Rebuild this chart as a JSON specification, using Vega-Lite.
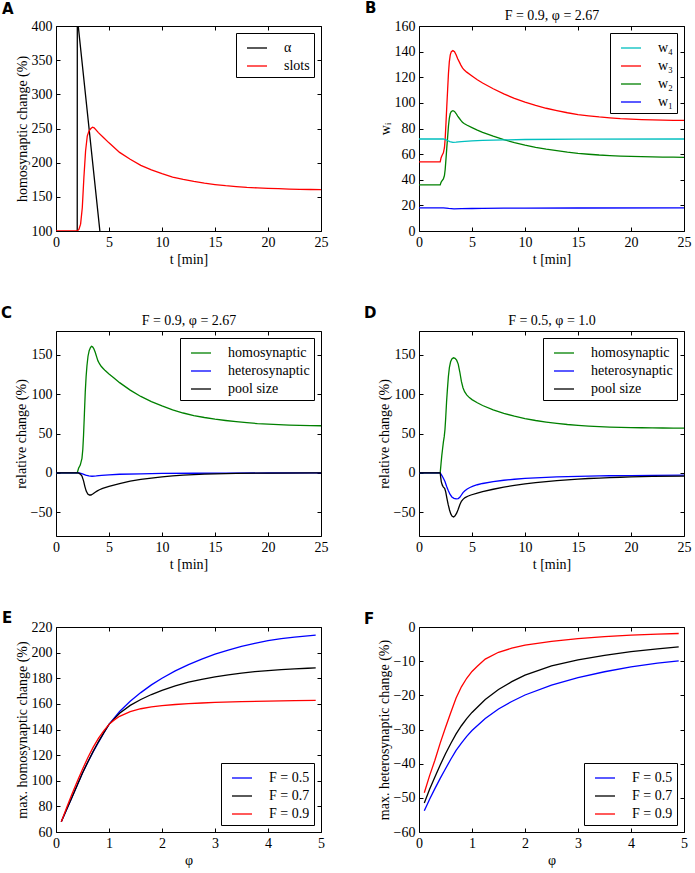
{
"$schema": "https://vega.github.io/schema/vega-lite/v6.json",
"background": "white",
"padding": {"left": 0, "top": 0, "right": 0, "bottom": 0},
"columns": 2,
"spacing": {"row": 38, "column": 34},
"resolve": {"scale": {"x": "independent", "y": "independent", "color": "independent"}, "legend": {"color": "independent"}},
"config": {
  "font": "Liberation Serif",
  "view": {"stroke": "black", "strokeWidth": 1},
  "axis": {"domain": false, "grid": false, "labelFont": "Liberation Serif", "labelFontSize": 14, "labelColor": "black", "titleFont": "Liberation Serif", "titleFontSize": 14, "titleFontWeight": "normal", "titleColor": "black", "tickColor": "black", "tickSize": -4, "tickWidth": 1, "labelPadding": 8, "labelFlush": false, "labelOverlap": false},
  "axisX": {"titlePadding": 3},
  "axisY": {"titlePadding": 2},
  "legend": {"title": null, "symbolType": "stroke", "symbolSize": 400, "symbolStrokeWidth": 1.3, "symbolOffset": 6, "labelFont": "Liberation Serif", "labelFontSize": 14, "labelColor": "black", "labelOffset": 16, "padding": 4, "rowPadding": 0, "strokeColor": "black", "strokeWidth": 1, "fillColor": "white", "offset": 7, "cornerRadius": 0, "labelLimit": 300},
  "title": {"font": "DejaVu Sans", "fontSize": 15, "fontWeight": "bold", "anchor": "start", "frame": "bounds", "dx": -13, "color": "black"},
  "line": {"strokeWidth": 1.3}
},
"concat": [
{
  "title": {"text": "A", "offset": 2},
  "width": 265, "height": 205,
  "layer": [
    {"data": {"values": [
      {"x": 0, "y": 0, "s": "α"}, {"x": 2.0, "y": 0, "s": "α"}, {"x": 2.01, "y": 413, "s": "α"}, {"x": 4.82, "y": 0, "s": "α"}, {"x": 25, "y": 0, "s": "α"},
      {"x": 0, "y": 100, "s": "slots"}, {"x": 2.0, "y": 100, "s": "slots"}, {"x": 2.16, "y": 102.4, "s": "slots"}, {"x": 2.32, "y": 110, "s": "slots"}, {"x": 2.48, "y": 134, "s": "slots"}, {"x": 2.63, "y": 178, "s": "slots"}, {"x": 2.79, "y": 217, "s": "slots"}, {"x": 2.95, "y": 239, "s": "slots"}, {"x": 3.1, "y": 246, "s": "slots"}, {"x": 3.29, "y": 250, "s": "slots"}, {"x": 3.45, "y": 252, "s": "slots"}, {"x": 3.6, "y": 251, "s": "slots"}, {"x": 4.0, "y": 244, "s": "slots"}, {"x": 4.5, "y": 236.5, "s": "slots"}, {"x": 5, "y": 229, "s": "slots"}, {"x": 6, "y": 215, "s": "slots"}, {"x": 7, "y": 205, "s": "slots"}, {"x": 8, "y": 196, "s": "slots"}, {"x": 9, "y": 189.5, "s": "slots"}, {"x": 10, "y": 184, "s": "slots"}, {"x": 11, "y": 179, "s": "slots"}, {"x": 12, "y": 175.5, "s": "slots"}, {"x": 13, "y": 172.5, "s": "slots"}, {"x": 14, "y": 170, "s": "slots"}, {"x": 15, "y": 168, "s": "slots"}, {"x": 16, "y": 166.3, "s": "slots"}, {"x": 17, "y": 165, "s": "slots"}, {"x": 18, "y": 163.8, "s": "slots"}, {"x": 19, "y": 163, "s": "slots"}, {"x": 20, "y": 162.4, "s": "slots"}, {"x": 21, "y": 161.9, "s": "slots"}, {"x": 22, "y": 161.4, "s": "slots"}, {"x": 23, "y": 161, "s": "slots"}, {"x": 24, "y": 160.7, "s": "slots"}, {"x": 25, "y": 160.5, "s": "slots"}
    ]},
    "mark": {"type": "line", "clip": true},
    "encoding": {
      "x": {"field": "x", "type": "quantitative", "scale": {"domain": [0, 25], "nice": false, "zero": false}, "axis": {"title": "t [min]", "values": [0, 5, 10, 15, 20, 25]}},
      "y": {"field": "y", "type": "quantitative", "scale": {"domain": [100, 400], "nice": false, "zero": false}, "axis": {"title": "homosynaptic change (%)", "values": [100, 150, 200, 250, 300, 350, 400]}},
      "color": {"field": "s", "type": "nominal", "scale": {"domain": ["α", "slots"], "range": ["#000000", "#ff0000"]}, "legend": {"orient": "top-right"}}
    }},
    {"data": {"values": [{}]}, "mark": {"type": "point", "opacity": 0},
     "encoding": {
       "x": {"datum": 0, "type": "quantitative", "axis": {"orient": "top", "labels": false, "title": null, "values": [0, 5, 10, 15, 20, 25]}},
       "y": {"datum": 100, "type": "quantitative", "axis": {"orient": "right", "labels": false, "title": null, "values": [100, 150, 200, 250, 300, 350, 400]}}
     }}
  ],
  "resolve": {"axis": {"x": "independent", "y": "independent"}}
},
{
  "title": {"text": "B", "offset": -7},
  "width": 265, "height": 205,
  "layer": [
    {"data": {"values": [
      {"x": 0, "y": 18, "s": "w₁"}, {"x": 2.3, "y": 18, "s": "w₁"}, {"x": 2.8, "y": 17.6, "s": "w₁"}, {"x": 3.3, "y": 17.3, "s": "w₁"}, {"x": 4, "y": 17.4, "s": "w₁"}, {"x": 5, "y": 17.55, "s": "w₁"}, {"x": 6, "y": 17.65, "s": "w₁"}, {"x": 8, "y": 17.8, "s": "w₁"}, {"x": 10, "y": 17.85, "s": "w₁"}, {"x": 15, "y": 17.95, "s": "w₁"}, {"x": 25, "y": 18, "s": "w₁"},
      {"x": 0, "y": 36, "s": "w₂"}, {"x": 2.0, "y": 36, "s": "w₂"}, {"x": 2.08, "y": 38, "s": "w₂"}, {"x": 2.15, "y": 39, "s": "w₂"}, {"x": 2.3, "y": 40.7, "s": "w₂"}, {"x": 2.4, "y": 43.3, "s": "w₂"}, {"x": 2.47, "y": 48, "s": "w₂"}, {"x": 2.55, "y": 56.7, "s": "w₂"}, {"x": 2.62, "y": 64.7, "s": "w₂"}, {"x": 2.7, "y": 73.3, "s": "w₂"}, {"x": 2.78, "y": 82, "s": "w₂"}, {"x": 2.86, "y": 88, "s": "w₂"}, {"x": 2.95, "y": 91.7, "s": "w₂"}, {"x": 3.05, "y": 93.3, "s": "w₂"}, {"x": 3.2, "y": 93.9, "s": "w₂"}, {"x": 3.35, "y": 93.3, "s": "w₂"}, {"x": 3.5, "y": 91.7, "s": "w₂"}, {"x": 3.65, "y": 89.7, "s": "w₂"}, {"x": 3.8, "y": 88, "s": "w₂"}, {"x": 3.95, "y": 86.3, "s": "w₂"}, {"x": 4.1, "y": 84.9, "s": "w₂"}, {"x": 4.25, "y": 83.9, "s": "w₂"}, {"x": 4.5, "y": 82.7, "s": "w₂"}, {"x": 5, "y": 80.7, "s": "w₂"}, {"x": 5.5, "y": 78.7, "s": "w₂"}, {"x": 6, "y": 77, "s": "w₂"}, {"x": 7, "y": 74, "s": "w₂"}, {"x": 8, "y": 71.3, "s": "w₂"}, {"x": 9, "y": 69, "s": "w₂"}, {"x": 10, "y": 67, "s": "w₂"}, {"x": 11, "y": 65.3, "s": "w₂"}, {"x": 12, "y": 63.9, "s": "w₂"}, {"x": 13, "y": 62.7, "s": "w₂"}, {"x": 14, "y": 61.5, "s": "w₂"}, {"x": 15, "y": 60.6, "s": "w₂"}, {"x": 16, "y": 59.9, "s": "w₂"}, {"x": 17, "y": 59.3, "s": "w₂"}, {"x": 18, "y": 58.9, "s": "w₂"}, {"x": 19, "y": 58.5, "s": "w₂"}, {"x": 20, "y": 58.2, "s": "w₂"}, {"x": 21, "y": 58, "s": "w₂"}, {"x": 22, "y": 57.9, "s": "w₂"}, {"x": 23, "y": 57.7, "s": "w₂"}, {"x": 24, "y": 57.6, "s": "w₂"}, {"x": 25, "y": 57.5, "s": "w₂"},
      {"x": 0, "y": 54, "s": "w₃"}, {"x": 2.0, "y": 54, "s": "w₃"}, {"x": 2.08, "y": 57, "s": "w₃"}, {"x": 2.15, "y": 58.5, "s": "w₃"}, {"x": 2.3, "y": 61, "s": "w₃"}, {"x": 2.4, "y": 65, "s": "w₃"}, {"x": 2.47, "y": 72, "s": "w₃"}, {"x": 2.55, "y": 85, "s": "w₃"}, {"x": 2.62, "y": 97, "s": "w₃"}, {"x": 2.7, "y": 110, "s": "w₃"}, {"x": 2.78, "y": 123, "s": "w₃"}, {"x": 2.86, "y": 132, "s": "w₃"}, {"x": 2.95, "y": 137.5, "s": "w₃"}, {"x": 3.05, "y": 140, "s": "w₃"}, {"x": 3.2, "y": 140.8, "s": "w₃"}, {"x": 3.35, "y": 140, "s": "w₃"}, {"x": 3.5, "y": 137.5, "s": "w₃"}, {"x": 3.65, "y": 134.5, "s": "w₃"}, {"x": 3.8, "y": 132, "s": "w₃"}, {"x": 3.95, "y": 129.5, "s": "w₃"}, {"x": 4.1, "y": 127.3, "s": "w₃"}, {"x": 4.25, "y": 125.8, "s": "w₃"}, {"x": 4.5, "y": 124, "s": "w₃"}, {"x": 5, "y": 121, "s": "w₃"}, {"x": 5.5, "y": 118, "s": "w₃"}, {"x": 6, "y": 115.5, "s": "w₃"}, {"x": 7, "y": 111, "s": "w₃"}, {"x": 8, "y": 107, "s": "w₃"}, {"x": 9, "y": 103.5, "s": "w₃"}, {"x": 10, "y": 100.5, "s": "w₃"}, {"x": 11, "y": 98, "s": "w₃"}, {"x": 12, "y": 95.8, "s": "w₃"}, {"x": 13, "y": 94, "s": "w₃"}, {"x": 14, "y": 92.3, "s": "w₃"}, {"x": 15, "y": 90.9, "s": "w₃"}, {"x": 16, "y": 89.9, "s": "w₃"}, {"x": 17, "y": 89, "s": "w₃"}, {"x": 18, "y": 88.3, "s": "w₃"}, {"x": 19, "y": 87.7, "s": "w₃"}, {"x": 20, "y": 87.3, "s": "w₃"}, {"x": 21, "y": 87, "s": "w₃"}, {"x": 22, "y": 86.8, "s": "w₃"}, {"x": 23, "y": 86.6, "s": "w₃"}, {"x": 24, "y": 86.4, "s": "w₃"}, {"x": 25, "y": 86.3, "s": "w₃"},
      {"x": 0, "y": 71.8, "s": "w₄"}, {"x": 2.3, "y": 71.8, "s": "w₄"}, {"x": 2.6, "y": 71, "s": "w₄"}, {"x": 2.9, "y": 69.8, "s": "w₄"}, {"x": 3.2, "y": 69.2, "s": "w₄"}, {"x": 3.5, "y": 69.3, "s": "w₄"}, {"x": 4, "y": 69.8, "s": "w₄"}, {"x": 5, "y": 70.3, "s": "w₄"}, {"x": 6, "y": 70.7, "s": "w₄"}, {"x": 8, "y": 71.1, "s": "w₄"}, {"x": 10, "y": 71.4, "s": "w₄"}, {"x": 15, "y": 71.7, "s": "w₄"}, {"x": 25, "y": 71.8, "s": "w₄"}
    ]},
    "mark": {"type": "line", "clip": true},
    "encoding": {
      "x": {"field": "x", "type": "quantitative", "scale": {"domain": [0, 25], "nice": false, "zero": false}, "axis": {"title": "t [min]", "values": [0, 5, 10, 15, 20, 25]}},
      "y": {"field": "y", "type": "quantitative", "scale": {"domain": [0, 160], "nice": false}, "axis": {"title": "wᵢ", "values": [0, 20, 40, 60, 80, 100, 120, 140, 160]}},
      "color": {"field": "s", "type": "nominal", "scale": {"domain": ["w₄", "w₃", "w₂", "w₁"], "range": ["#00bfbf", "#ff0000", "#008000", "#0000ff"]}, "legend": {"orient": "top-right"}}
    }},
    {"data": {"values": [{}]}, "mark": {"type": "point", "opacity": 0},
     "encoding": {
       "x": {"datum": 0, "type": "quantitative", "axis": {"orient": "top", "labels": false, "title": "F = 0.9,  φ = 2.67", "titlePadding": 3, "values": [0, 5, 10, 15, 20, 25]}},
       "y": {"datum": 0, "type": "quantitative", "axis": {"orient": "right", "labels": false, "title": null, "values": [0, 20, 40, 60, 80, 100, 120, 140, 160]}}
     }}
  ],
  "resolve": {"axis": {"x": "independent", "y": "independent"}}
},
{
  "title": {"text": "C", "offset": -7},
  "width": 265, "height": 205,
  "layer": [
    {"data": {"values": [
      {"x": 0, "y": 0, "s": "homosynaptic"}, {"x": 2.0, "y": 0, "s": "homosynaptic"}, {"x": 2.13, "y": 5.9, "s": "homosynaptic"}, {"x": 2.29, "y": 10, "s": "homosynaptic"}, {"x": 2.45, "y": 18.5, "s": "homosynaptic"}, {"x": 2.53, "y": 30, "s": "homosynaptic"}, {"x": 2.6, "y": 48, "s": "homosynaptic"}, {"x": 2.68, "y": 75, "s": "homosynaptic"}, {"x": 2.76, "y": 102.5, "s": "homosynaptic"}, {"x": 2.84, "y": 122, "s": "homosynaptic"}, {"x": 2.92, "y": 136, "s": "homosynaptic"}, {"x": 3.02, "y": 148, "s": "homosynaptic"}, {"x": 3.13, "y": 155, "s": "homosynaptic"}, {"x": 3.25, "y": 159, "s": "homosynaptic"}, {"x": 3.35, "y": 160.5, "s": "homosynaptic"}, {"x": 3.45, "y": 160, "s": "homosynaptic"}, {"x": 3.55, "y": 158, "s": "homosynaptic"}, {"x": 3.7, "y": 153, "s": "homosynaptic"}, {"x": 3.85, "y": 146.5, "s": "homosynaptic"}, {"x": 3.95, "y": 142.4, "s": "homosynaptic"}, {"x": 4.1, "y": 138.5, "s": "homosynaptic"}, {"x": 4.26, "y": 135.3, "s": "homosynaptic"}, {"x": 4.45, "y": 132.5, "s": "homosynaptic"}, {"x": 4.64, "y": 129.8, "s": "homosynaptic"}, {"x": 5, "y": 125.5, "s": "homosynaptic"}, {"x": 5.5, "y": 120, "s": "homosynaptic"}, {"x": 6, "y": 114.5, "s": "homosynaptic"}, {"x": 7, "y": 105, "s": "homosynaptic"}, {"x": 8, "y": 97, "s": "homosynaptic"}, {"x": 9, "y": 90.5, "s": "homosynaptic"}, {"x": 10, "y": 85, "s": "homosynaptic"}, {"x": 11, "y": 80, "s": "homosynaptic"}, {"x": 12, "y": 76, "s": "homosynaptic"}, {"x": 13, "y": 72.8, "s": "homosynaptic"}, {"x": 14, "y": 70.3, "s": "homosynaptic"}, {"x": 15, "y": 68.2, "s": "homosynaptic"}, {"x": 16, "y": 66.5, "s": "homosynaptic"}, {"x": 17, "y": 65, "s": "homosynaptic"}, {"x": 18, "y": 63.7, "s": "homosynaptic"}, {"x": 19, "y": 62.6, "s": "homosynaptic"}, {"x": 20, "y": 61.8, "s": "homosynaptic"}, {"x": 21, "y": 61.2, "s": "homosynaptic"}, {"x": 22, "y": 60.7, "s": "homosynaptic"}, {"x": 23, "y": 60.3, "s": "homosynaptic"}, {"x": 24, "y": 60, "s": "homosynaptic"}, {"x": 25, "y": 59.8, "s": "homosynaptic"},
      {"x": 0, "y": 0, "s": "heterosynaptic"}, {"x": 2.2, "y": 0, "s": "heterosynaptic"}, {"x": 2.5, "y": -1.2, "s": "heterosynaptic"}, {"x": 2.8, "y": -2.8, "s": "heterosynaptic"}, {"x": 3.1, "y": -3.8, "s": "heterosynaptic"}, {"x": 3.4, "y": -4.2, "s": "heterosynaptic"}, {"x": 3.8, "y": -3.8, "s": "heterosynaptic"}, {"x": 4.3, "y": -3.1, "s": "heterosynaptic"}, {"x": 5, "y": -2.4, "s": "heterosynaptic"}, {"x": 6, "y": -1.7, "s": "heterosynaptic"}, {"x": 8, "y": -1.1, "s": "heterosynaptic"}, {"x": 10, "y": -0.7, "s": "heterosynaptic"}, {"x": 13, "y": -0.4, "s": "heterosynaptic"}, {"x": 16, "y": -0.2, "s": "heterosynaptic"}, {"x": 20, "y": -0.1, "s": "heterosynaptic"}, {"x": 25, "y": 0, "s": "heterosynaptic"},
      {"x": 0, "y": 0, "s": "pool size"}, {"x": 2.1, "y": 0, "s": "pool size"}, {"x": 2.3, "y": -1.5, "s": "pool size"}, {"x": 2.45, "y": -4, "s": "pool size"}, {"x": 2.6, "y": -10, "s": "pool size"}, {"x": 2.72, "y": -17, "s": "pool size"}, {"x": 2.85, "y": -23, "s": "pool size"}, {"x": 3.0, "y": -26.8, "s": "pool size"}, {"x": 3.15, "y": -28, "s": "pool size"}, {"x": 3.3, "y": -28, "s": "pool size"}, {"x": 3.5, "y": -26.5, "s": "pool size"}, {"x": 3.7, "y": -24.5, "s": "pool size"}, {"x": 3.9, "y": -22.8, "s": "pool size"}, {"x": 4.1, "y": -21.3, "s": "pool size"}, {"x": 4.4, "y": -19.6, "s": "pool size"}, {"x": 5, "y": -17, "s": "pool size"}, {"x": 6, "y": -13.5, "s": "pool size"}, {"x": 7, "y": -10.5, "s": "pool size"}, {"x": 8, "y": -8.3, "s": "pool size"}, {"x": 9, "y": -6.5, "s": "pool size"}, {"x": 10, "y": -5, "s": "pool size"}, {"x": 11, "y": -3.8, "s": "pool size"}, {"x": 12, "y": -2.8, "s": "pool size"}, {"x": 13, "y": -2.1, "s": "pool size"}, {"x": 14, "y": -1.5, "s": "pool size"}, {"x": 15, "y": -1.1, "s": "pool size"}, {"x": 17, "y": -0.6, "s": "pool size"}, {"x": 20, "y": -0.2, "s": "pool size"}, {"x": 25, "y": 0, "s": "pool size"}
    ]},
    "mark": {"type": "line", "clip": true},
    "encoding": {
      "x": {"field": "x", "type": "quantitative", "scale": {"domain": [0, 25], "nice": false, "zero": false}, "axis": {"title": "t [min]", "values": [0, 5, 10, 15, 20, 25]}},
      "y": {"field": "y", "type": "quantitative", "scale": {"domain": [-80, 180], "nice": false, "zero": false}, "axis": {"title": "relative change (%)", "values": [-50, 0, 50, 100, 150]}},
      "color": {"field": "s", "type": "nominal", "scale": {"domain": ["homosynaptic", "heterosynaptic", "pool size"], "range": ["#008000", "#0000ff", "#000000"]}, "legend": {"orient": "top-right"}}
    }},
    {"data": {"values": [{}]}, "mark": {"type": "point", "opacity": 0},
     "encoding": {
       "x": {"datum": 0, "type": "quantitative", "axis": {"orient": "top", "labels": false, "title": "F = 0.9,  φ = 2.67", "titlePadding": 3, "values": [0, 5, 10, 15, 20, 25]}},
       "y": {"datum": 0, "type": "quantitative", "axis": {"orient": "right", "labels": false, "title": null, "values": [-50, 0, 50, 100, 150]}}
     }}
  ],
  "resolve": {"axis": {"x": "independent", "y": "independent"}}
},
{
  "title": {"text": "D", "offset": -7},
  "width": 265, "height": 205,
  "layer": [
    {"data": {"values": [
      {"x": 0, "y": 0, "s": "homosynaptic"}, {"x": 2.0, "y": 0, "s": "homosynaptic"}, {"x": 2.08, "y": 12, "s": "homosynaptic"}, {"x": 2.15, "y": 22, "s": "homosynaptic"}, {"x": 2.22, "y": 30, "s": "homosynaptic"}, {"x": 2.3, "y": 39, "s": "homosynaptic"}, {"x": 2.38, "y": 46, "s": "homosynaptic"}, {"x": 2.45, "y": 55, "s": "homosynaptic"}, {"x": 2.52, "y": 70, "s": "homosynaptic"}, {"x": 2.6, "y": 90, "s": "homosynaptic"}, {"x": 2.68, "y": 106, "s": "homosynaptic"}, {"x": 2.77, "y": 122, "s": "homosynaptic"}, {"x": 2.87, "y": 134, "s": "homosynaptic"}, {"x": 2.98, "y": 141, "s": "homosynaptic"}, {"x": 3.1, "y": 144.5, "s": "homosynaptic"}, {"x": 3.25, "y": 146, "s": "homosynaptic"}, {"x": 3.4, "y": 145.4, "s": "homosynaptic"}, {"x": 3.55, "y": 143, "s": "homosynaptic"}, {"x": 3.7, "y": 138, "s": "homosynaptic"}, {"x": 3.85, "y": 128, "s": "homosynaptic"}, {"x": 4.0, "y": 116, "s": "homosynaptic"}, {"x": 4.15, "y": 108, "s": "homosynaptic"}, {"x": 4.3, "y": 103, "s": "homosynaptic"}, {"x": 4.5, "y": 99, "s": "homosynaptic"}, {"x": 4.75, "y": 95.5, "s": "homosynaptic"}, {"x": 5, "y": 93, "s": "homosynaptic"}, {"x": 5.5, "y": 89, "s": "homosynaptic"}, {"x": 6, "y": 85.5, "s": "homosynaptic"}, {"x": 7, "y": 80, "s": "homosynaptic"}, {"x": 8, "y": 75.5, "s": "homosynaptic"}, {"x": 9, "y": 72, "s": "homosynaptic"}, {"x": 10, "y": 69, "s": "homosynaptic"}, {"x": 11, "y": 66.5, "s": "homosynaptic"}, {"x": 12, "y": 64.5, "s": "homosynaptic"}, {"x": 13, "y": 62.8, "s": "homosynaptic"}, {"x": 14, "y": 61.4, "s": "homosynaptic"}, {"x": 15, "y": 60.3, "s": "homosynaptic"}, {"x": 16, "y": 59.4, "s": "homosynaptic"}, {"x": 17, "y": 58.7, "s": "homosynaptic"}, {"x": 18, "y": 58.2, "s": "homosynaptic"}, {"x": 19, "y": 57.8, "s": "homosynaptic"}, {"x": 20, "y": 57.5, "s": "homosynaptic"}, {"x": 21, "y": 57.3, "s": "homosynaptic"}, {"x": 22, "y": 57.1, "s": "homosynaptic"}, {"x": 23, "y": 57, "s": "homosynaptic"}, {"x": 24, "y": 56.9, "s": "homosynaptic"}, {"x": 25, "y": 56.8, "s": "homosynaptic"},
      {"x": 0, "y": 0, "s": "heterosynaptic"}, {"x": 2.0, "y": 0, "s": "heterosynaptic"}, {"x": 2.15, "y": -3, "s": "heterosynaptic"}, {"x": 2.3, "y": -6.7, "s": "heterosynaptic"}, {"x": 2.45, "y": -11, "s": "heterosynaptic"}, {"x": 2.6, "y": -17, "s": "heterosynaptic"}, {"x": 2.75, "y": -22, "s": "heterosynaptic"}, {"x": 2.92, "y": -27, "s": "heterosynaptic"}, {"x": 3.1, "y": -30.5, "s": "heterosynaptic"}, {"x": 3.3, "y": -32.3, "s": "heterosynaptic"}, {"x": 3.5, "y": -33, "s": "heterosynaptic"}, {"x": 3.7, "y": -32.6, "s": "heterosynaptic"}, {"x": 3.85, "y": -31, "s": "heterosynaptic"}, {"x": 4.0, "y": -28, "s": "heterosynaptic"}, {"x": 4.15, "y": -25, "s": "heterosynaptic"}, {"x": 4.33, "y": -22.7, "s": "heterosynaptic"}, {"x": 4.55, "y": -20.3, "s": "heterosynaptic"}, {"x": 4.8, "y": -18.5, "s": "heterosynaptic"}, {"x": 5.1, "y": -16.8, "s": "heterosynaptic"}, {"x": 5.5, "y": -15, "s": "heterosynaptic"}, {"x": 6, "y": -13.4, "s": "heterosynaptic"}, {"x": 7, "y": -11, "s": "heterosynaptic"}, {"x": 8, "y": -9.3, "s": "heterosynaptic"}, {"x": 9, "y": -8, "s": "heterosynaptic"}, {"x": 10, "y": -7, "s": "heterosynaptic"}, {"x": 11, "y": -6.2, "s": "heterosynaptic"}, {"x": 12, "y": -5.6, "s": "heterosynaptic"}, {"x": 13, "y": -5.1, "s": "heterosynaptic"}, {"x": 14, "y": -4.7, "s": "heterosynaptic"}, {"x": 15, "y": -4.3, "s": "heterosynaptic"}, {"x": 16, "y": -4, "s": "heterosynaptic"}, {"x": 17, "y": -3.8, "s": "heterosynaptic"}, {"x": 18, "y": -3.6, "s": "heterosynaptic"}, {"x": 19, "y": -3.4, "s": "heterosynaptic"}, {"x": 20, "y": -3.3, "s": "heterosynaptic"}, {"x": 22, "y": -3.1, "s": "heterosynaptic"}, {"x": 25, "y": -2.9, "s": "heterosynaptic"},
      {"x": 0, "y": 0, "s": "pool size"}, {"x": 2.0, "y": 0, "s": "pool size"}, {"x": 2.05, "y": -6, "s": "pool size"}, {"x": 2.1, "y": -11, "s": "pool size"}, {"x": 2.2, "y": -15.5, "s": "pool size"}, {"x": 2.3, "y": -18, "s": "pool size"}, {"x": 2.42, "y": -19.5, "s": "pool size"}, {"x": 2.52, "y": -24, "s": "pool size"}, {"x": 2.63, "y": -32, "s": "pool size"}, {"x": 2.75, "y": -40, "s": "pool size"}, {"x": 2.88, "y": -47, "s": "pool size"}, {"x": 3.0, "y": -52, "s": "pool size"}, {"x": 3.13, "y": -55, "s": "pool size"}, {"x": 3.27, "y": -55.8, "s": "pool size"}, {"x": 3.4, "y": -54.5, "s": "pool size"}, {"x": 3.55, "y": -51, "s": "pool size"}, {"x": 3.7, "y": -46, "s": "pool size"}, {"x": 3.85, "y": -40.5, "s": "pool size"}, {"x": 4.0, "y": -36, "s": "pool size"}, {"x": 4.15, "y": -33.5, "s": "pool size"}, {"x": 4.35, "y": -31.3, "s": "pool size"}, {"x": 4.6, "y": -29.6, "s": "pool size"}, {"x": 4.9, "y": -28, "s": "pool size"}, {"x": 5.5, "y": -25.5, "s": "pool size"}, {"x": 6, "y": -23.7, "s": "pool size"}, {"x": 7, "y": -20.7, "s": "pool size"}, {"x": 8, "y": -18, "s": "pool size"}, {"x": 9, "y": -15.8, "s": "pool size"}, {"x": 10, "y": -14, "s": "pool size"}, {"x": 11, "y": -12.4, "s": "pool size"}, {"x": 12, "y": -11, "s": "pool size"}, {"x": 13, "y": -9.8, "s": "pool size"}, {"x": 14, "y": -8.8, "s": "pool size"}, {"x": 15, "y": -7.9, "s": "pool size"}, {"x": 16, "y": -7.1, "s": "pool size"}, {"x": 17, "y": -6.5, "s": "pool size"}, {"x": 18, "y": -5.9, "s": "pool size"}, {"x": 19, "y": -5.5, "s": "pool size"}, {"x": 20, "y": -5.1, "s": "pool size"}, {"x": 22, "y": -4.5, "s": "pool size"}, {"x": 25, "y": -4, "s": "pool size"}
    ]},
    "mark": {"type": "line", "clip": true},
    "encoding": {
      "x": {"field": "x", "type": "quantitative", "scale": {"domain": [0, 25], "nice": false, "zero": false}, "axis": {"title": "t [min]", "values": [0, 5, 10, 15, 20, 25]}},
      "y": {"field": "y", "type": "quantitative", "scale": {"domain": [-80, 180], "nice": false, "zero": false}, "axis": {"title": "relative change (%)", "values": [-50, 0, 50, 100, 150]}},
      "color": {"field": "s", "type": "nominal", "scale": {"domain": ["homosynaptic", "heterosynaptic", "pool size"], "range": ["#008000", "#0000ff", "#000000"]}, "legend": {"orient": "top-right"}}
    }},
    {"data": {"values": [{}]}, "mark": {"type": "point", "opacity": 0},
     "encoding": {
       "x": {"datum": 0, "type": "quantitative", "axis": {"orient": "top", "labels": false, "title": "F = 0.5,  φ = 1.0", "titlePadding": 3, "values": [0, 5, 10, 15, 20, 25]}},
       "y": {"datum": 0, "type": "quantitative", "axis": {"orient": "right", "labels": false, "title": null, "values": [-50, 0, 50, 100, 150]}}
     }}
  ],
  "resolve": {"axis": {"x": "independent", "y": "independent"}}
},
{
  "title": {"text": "E", "offset": -6},
  "width": 265, "height": 205,
  "layer": [
    {"data": {"values": [
      {"x": 0.1, "y": 68, "s": "F = 0.5"}, {"x": 0.2, "y": 77.5, "s": "F = 0.5"}, {"x": 0.3, "y": 87, "s": "F = 0.5"}, {"x": 0.4, "y": 96.5, "s": "F = 0.5"}, {"x": 0.5, "y": 106, "s": "F = 0.5"}, {"x": 0.6, "y": 114.5, "s": "F = 0.5"}, {"x": 0.7, "y": 122.5, "s": "F = 0.5"}, {"x": 0.8, "y": 130, "s": "F = 0.5"}, {"x": 0.9, "y": 137.2, "s": "F = 0.5"}, {"x": 1.0, "y": 144, "s": "F = 0.5"}, {"x": 1.2, "y": 154, "s": "F = 0.5"}, {"x": 1.4, "y": 162, "s": "F = 0.5"}, {"x": 1.6, "y": 168.8, "s": "F = 0.5"}, {"x": 1.8, "y": 174.8, "s": "F = 0.5"}, {"x": 2.0, "y": 180, "s": "F = 0.5"}, {"x": 2.25, "y": 185.7, "s": "F = 0.5"}, {"x": 2.5, "y": 190.7, "s": "F = 0.5"}, {"x": 2.75, "y": 195, "s": "F = 0.5"}, {"x": 3.0, "y": 198.8, "s": "F = 0.5"}, {"x": 3.25, "y": 202, "s": "F = 0.5"}, {"x": 3.5, "y": 204.9, "s": "F = 0.5"}, {"x": 3.75, "y": 207.3, "s": "F = 0.5"}, {"x": 4.0, "y": 209.3, "s": "F = 0.5"}, {"x": 4.25, "y": 210.9, "s": "F = 0.5"}, {"x": 4.5, "y": 212.1, "s": "F = 0.5"}, {"x": 4.75, "y": 213.1, "s": "F = 0.5"}, {"x": 4.9, "y": 213.6, "s": "F = 0.5"},
      {"x": 0.1, "y": 68, "s": "F = 0.7"}, {"x": 0.2, "y": 77.5, "s": "F = 0.7"}, {"x": 0.3, "y": 87, "s": "F = 0.7"}, {"x": 0.4, "y": 96.5, "s": "F = 0.7"}, {"x": 0.5, "y": 106, "s": "F = 0.7"}, {"x": 0.6, "y": 114.7, "s": "F = 0.7"}, {"x": 0.7, "y": 122.8, "s": "F = 0.7"}, {"x": 0.8, "y": 130.4, "s": "F = 0.7"}, {"x": 0.9, "y": 137.4, "s": "F = 0.7"}, {"x": 1.0, "y": 144, "s": "F = 0.7"}, {"x": 1.2, "y": 152.7, "s": "F = 0.7"}, {"x": 1.4, "y": 158.8, "s": "F = 0.7"}, {"x": 1.6, "y": 163.4, "s": "F = 0.7"}, {"x": 1.8, "y": 167.3, "s": "F = 0.7"}, {"x": 2.0, "y": 170.6, "s": "F = 0.7"}, {"x": 2.25, "y": 174, "s": "F = 0.7"}, {"x": 2.5, "y": 176.9, "s": "F = 0.7"}, {"x": 2.75, "y": 179.2, "s": "F = 0.7"}, {"x": 3.0, "y": 181.1, "s": "F = 0.7"}, {"x": 3.25, "y": 182.7, "s": "F = 0.7"}, {"x": 3.5, "y": 184, "s": "F = 0.7"}, {"x": 3.75, "y": 185.1, "s": "F = 0.7"}, {"x": 4.0, "y": 186, "s": "F = 0.7"}, {"x": 4.25, "y": 186.7, "s": "F = 0.7"}, {"x": 4.5, "y": 187.3, "s": "F = 0.7"}, {"x": 4.75, "y": 187.8, "s": "F = 0.7"}, {"x": 4.9, "y": 188.1, "s": "F = 0.7"},
      {"x": 0.1, "y": 68, "s": "F = 0.9"}, {"x": 0.2, "y": 79, "s": "F = 0.9"}, {"x": 0.3, "y": 89.5, "s": "F = 0.9"}, {"x": 0.4, "y": 99.5, "s": "F = 0.9"}, {"x": 0.5, "y": 109, "s": "F = 0.9"}, {"x": 0.6, "y": 118, "s": "F = 0.9"}, {"x": 0.7, "y": 126, "s": "F = 0.9"}, {"x": 0.8, "y": 133, "s": "F = 0.9"}, {"x": 0.9, "y": 139, "s": "F = 0.9"}, {"x": 1.0, "y": 144, "s": "F = 0.9"}, {"x": 1.1, "y": 147.5, "s": "F = 0.9"}, {"x": 1.2, "y": 150.3, "s": "F = 0.9"}, {"x": 1.4, "y": 154, "s": "F = 0.9"}, {"x": 1.6, "y": 156.2, "s": "F = 0.9"}, {"x": 1.8, "y": 157.6, "s": "F = 0.9"}, {"x": 2.0, "y": 158.6, "s": "F = 0.9"}, {"x": 2.25, "y": 159.5, "s": "F = 0.9"}, {"x": 2.5, "y": 160.2, "s": "F = 0.9"}, {"x": 2.75, "y": 160.7, "s": "F = 0.9"}, {"x": 3.0, "y": 161.1, "s": "F = 0.9"}, {"x": 3.5, "y": 161.7, "s": "F = 0.9"}, {"x": 4.0, "y": 162.2, "s": "F = 0.9"}, {"x": 4.5, "y": 162.5, "s": "F = 0.9"}, {"x": 4.9, "y": 162.7, "s": "F = 0.9"}
    ]},
    "mark": {"type": "line", "clip": true},
    "encoding": {
      "x": {"field": "x", "type": "quantitative", "scale": {"domain": [0, 5], "nice": false, "zero": false}, "axis": {"title": "φ", "values": [0, 1, 2, 3, 4, 5]}},
      "y": {"field": "y", "type": "quantitative", "scale": {"domain": [60, 220], "nice": false, "zero": false}, "axis": {"title": "max. homosynaptic change (%)", "values": [60, 80, 100, 120, 140, 160, 180, 200, 220]}},
      "color": {"field": "s", "type": "nominal", "scale": {"domain": ["F = 0.5", "F = 0.7", "F = 0.9"], "range": ["#0000ff", "#000000", "#ff0000"]}, "legend": {"orient": "bottom-right"}}
    }},
    {"data": {"values": [{}]}, "mark": {"type": "point", "opacity": 0},
     "encoding": {
       "x": {"datum": 0, "type": "quantitative", "axis": {"orient": "top", "labels": false, "title": null, "values": [0, 1, 2, 3, 4, 5]}},
       "y": {"datum": 60, "type": "quantitative", "axis": {"orient": "right", "labels": false, "title": null, "values": [60, 80, 100, 120, 140, 160, 180, 200, 220]}}
     }}
  ],
  "resolve": {"axis": {"x": "independent", "y": "independent"}}
},
{
  "title": {"text": "F", "offset": -7},
  "width": 265, "height": 205,
  "layer": [
    {"data": {"values": [
      {"x": 0.1, "y": -53.8, "s": "F = 0.5"}, {"x": 0.2, "y": -50.4, "s": "F = 0.5"}, {"x": 0.3, "y": -47.3, "s": "F = 0.5"}, {"x": 0.4, "y": -44.3, "s": "F = 0.5"}, {"x": 0.5, "y": -41.5, "s": "F = 0.5"}, {"x": 0.6, "y": -38.7, "s": "F = 0.5"}, {"x": 0.7, "y": -36.1, "s": "F = 0.5"}, {"x": 0.8, "y": -34, "s": "F = 0.5"}, {"x": 0.9, "y": -32, "s": "F = 0.5"}, {"x": 1.0, "y": -30.3, "s": "F = 0.5"}, {"x": 1.25, "y": -26.8, "s": "F = 0.5"}, {"x": 1.5, "y": -24, "s": "F = 0.5"}, {"x": 1.75, "y": -21.8, "s": "F = 0.5"}, {"x": 2.0, "y": -19.9, "s": "F = 0.5"}, {"x": 2.5, "y": -17, "s": "F = 0.5"}, {"x": 3.0, "y": -14.8, "s": "F = 0.5"}, {"x": 3.5, "y": -13.1, "s": "F = 0.5"}, {"x": 4.0, "y": -11.7, "s": "F = 0.5"}, {"x": 4.5, "y": -10.6, "s": "F = 0.5"}, {"x": 4.9, "y": -9.9, "s": "F = 0.5"},
      {"x": 0.1, "y": -51.5, "s": "F = 0.7"}, {"x": 0.2, "y": -47.5, "s": "F = 0.7"}, {"x": 0.3, "y": -43.9, "s": "F = 0.7"}, {"x": 0.4, "y": -40.4, "s": "F = 0.7"}, {"x": 0.5, "y": -37.1, "s": "F = 0.7"}, {"x": 0.6, "y": -34.1, "s": "F = 0.7"}, {"x": 0.7, "y": -31.3, "s": "F = 0.7"}, {"x": 0.8, "y": -28.9, "s": "F = 0.7"}, {"x": 0.9, "y": -26.8, "s": "F = 0.7"}, {"x": 1.0, "y": -25, "s": "F = 0.7"}, {"x": 1.25, "y": -21.2, "s": "F = 0.7"}, {"x": 1.5, "y": -18.3, "s": "F = 0.7"}, {"x": 1.75, "y": -16, "s": "F = 0.7"}, {"x": 2.0, "y": -14.1, "s": "F = 0.7"}, {"x": 2.5, "y": -11.4, "s": "F = 0.7"}, {"x": 3.0, "y": -9.6, "s": "F = 0.7"}, {"x": 3.5, "y": -8.3, "s": "F = 0.7"}, {"x": 4.0, "y": -7.2, "s": "F = 0.7"}, {"x": 4.5, "y": -6.4, "s": "F = 0.7"}, {"x": 4.9, "y": -5.8, "s": "F = 0.7"},
      {"x": 0.1, "y": -48.5, "s": "F = 0.9"}, {"x": 0.2, "y": -43.5, "s": "F = 0.9"}, {"x": 0.3, "y": -39, "s": "F = 0.9"}, {"x": 0.4, "y": -34, "s": "F = 0.9"}, {"x": 0.5, "y": -29.4, "s": "F = 0.9"}, {"x": 0.6, "y": -25, "s": "F = 0.9"}, {"x": 0.7, "y": -20.8, "s": "F = 0.9"}, {"x": 0.8, "y": -17.5, "s": "F = 0.9"}, {"x": 0.9, "y": -15, "s": "F = 0.9"}, {"x": 1.0, "y": -13, "s": "F = 0.9"}, {"x": 1.1, "y": -11.5, "s": "F = 0.9"}, {"x": 1.25, "y": -9.4, "s": "F = 0.9"}, {"x": 1.5, "y": -7.4, "s": "F = 0.9"}, {"x": 1.75, "y": -6.2, "s": "F = 0.9"}, {"x": 2.0, "y": -5.3, "s": "F = 0.9"}, {"x": 2.5, "y": -4.2, "s": "F = 0.9"}, {"x": 3.0, "y": -3.4, "s": "F = 0.9"}, {"x": 3.5, "y": -2.8, "s": "F = 0.9"}, {"x": 4.0, "y": -2.4, "s": "F = 0.9"}, {"x": 4.5, "y": -2.1, "s": "F = 0.9"}, {"x": 4.9, "y": -1.9, "s": "F = 0.9"}
    ]},
    "mark": {"type": "line", "clip": true},
    "encoding": {
      "x": {"field": "x", "type": "quantitative", "scale": {"domain": [0, 5], "nice": false, "zero": false}, "axis": {"title": "φ", "values": [0, 1, 2, 3, 4, 5]}},
      "y": {"field": "y", "type": "quantitative", "scale": {"domain": [-60, 0], "nice": false, "zero": false}, "axis": {"title": "max. heterosynaptic change (%)", "values": [-60, -50, -40, -30, -20, -10, 0]}},
      "color": {"field": "s", "type": "nominal", "scale": {"domain": ["F = 0.5", "F = 0.7", "F = 0.9"], "range": ["#0000ff", "#000000", "#ff0000"]}, "legend": {"orient": "bottom-right"}}
    }},
    {"data": {"values": [{}]}, "mark": {"type": "point", "opacity": 0},
     "encoding": {
       "x": {"datum": 0, "type": "quantitative", "axis": {"orient": "top", "labels": false, "title": null, "values": [0, 1, 2, 3, 4, 5]}},
       "y": {"datum": -60, "type": "quantitative", "axis": {"orient": "right", "labels": false, "title": null, "values": [-60, -50, -40, -30, -20, -10, 0]}}
     }}
  ],
  "resolve": {"axis": {"x": "independent", "y": "independent"}}
}
]
}
